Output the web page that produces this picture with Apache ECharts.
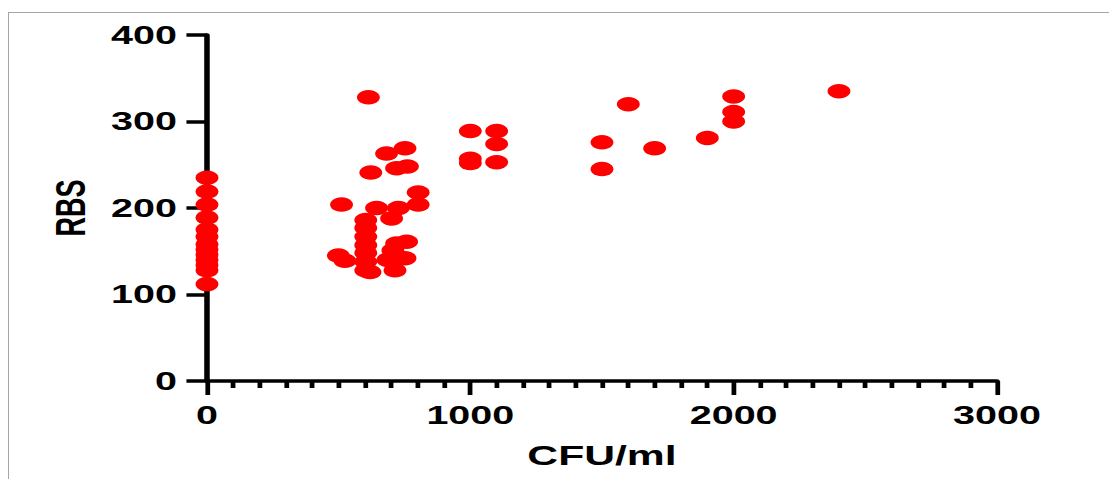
<!DOCTYPE html>
<html>
<head>
<meta charset="utf-8">
<script src="https://cdn.jsdelivr.net/npm/echarts@6/dist/echarts.min.js"></script>
<style>
  html, body { margin: 0; padding: 0; background: #fff; overflow: hidden; }
  #frame { position: absolute; left: 8px; top: 12px; right: 0; bottom: 0;
           border-top: 1px solid #a6a6a6; border-left: 1px solid #a6a6a6; }
  /* the original picture is stretched sideways, so draw narrow and scale */
  #chart { position: absolute; left: 0; top: 0; width: 702px; height: 479px;
           transform: scaleX(1.58); transform-origin: 0 0; }
</style>
</head>
<body>
<div id="frame"></div>
<div id="chart"></div>
<script>
// CFU/ml vs RBS, one entry per sample
const cfuValues = [
  0, 0, 0, 0, 0, 0, 0, 0, 0, 0, 0, 0, 0,
  499, 524, 511, 613, 622, 682, 752, 720, 761, 802, 644, 727, 802, 701,
  603, 603, 603, 603, 603, 603, 603,
  720, 758, 752, 714, 619, 687, 706,
  1000, 1000, 1000, 1100, 1100, 1100,
  1500, 1500, 1600, 1700, 1900, 2000, 2000, 2000, 2400
];
const rbsValues = [
  235, 219, 204, 189, 175, 167, 158, 152, 146, 140, 134, 128, 112,
  145, 139, 204, 328, 241, 263, 269, 246, 248, 218, 200, 200, 204, 188,
  186, 177, 167, 157, 148, 138, 128,
  159, 161, 142, 128, 126, 140, 151,
  289, 257, 252, 289, 274, 253,
  276, 245, 320, 269, 281, 329, 311, 300, 335
];
const xTicks = { min: 0, max: 3000, step: 1000 };
const yTicks = { min: 0, max: 400, step: 100 };

const points = cfuValues.map((x, i) => [x, rbsValues[i]]);

const chart = echarts.init(document.getElementById('chart'), null, { renderer: 'svg' });

const labelFont = {
  color: '#000',
  fontFamily: 'Liberation Sans, Arial, sans-serif',
  fontWeight: 'bold',
  fontSize: 25
};
const nameFont = Object.assign({}, labelFont, { fontSize: 27 });

chart.setOption({
  animation: false,
  grid: { left: 131, right: 71, top: 35, bottom: 98 },
  xAxis: {
    type: 'value',
    min: xTicks.min,
    max: xTicks.max,
    interval: xTicks.step,
    name: 'CFU/ml',
    nameLocation: 'middle',
    nameGap: 61,
    nameTextStyle: nameFont,
    axisLine: { show: true, lineStyle: { color: '#000', width: 3.5 } },
    axisTick: { show: true, length: 14, lineStyle: { color: '#000', width: 3 } },
    minorTick: { show: true, splitNumber: 10, length: 7, lineStyle: { color: '#000', width: 3 } },
    axisLabel: Object.assign({ margin: 22, formatter: v => String(v) }, labelFont),
    splitLine: { show: false }
  },
  yAxis: {
    type: 'value',
    min: yTicks.min,
    max: yTicks.max,
    interval: yTicks.step,
    name: 'RBS',
    nameLocation: 'middle',
    nameGap: 73,
    nameTextStyle: nameFont,
    axisLine: { show: true, lineStyle: { color: '#000', width: 3.5 } },
    axisTick: { show: true, length: 13, lineStyle: { color: '#000', width: 3.5 } },
    axisLabel: Object.assign({ margin: 19, formatter: v => String(v) }, labelFont),
    splitLine: { show: false }
  },
  series: [{
    type: 'scatter',
    data: points,
    symbol: 'circle',
    symbolSize: 14.5,
    itemStyle: { color: '#ff0000', opacity: 1 }
  }]
});
</script>
</body>
</html>
